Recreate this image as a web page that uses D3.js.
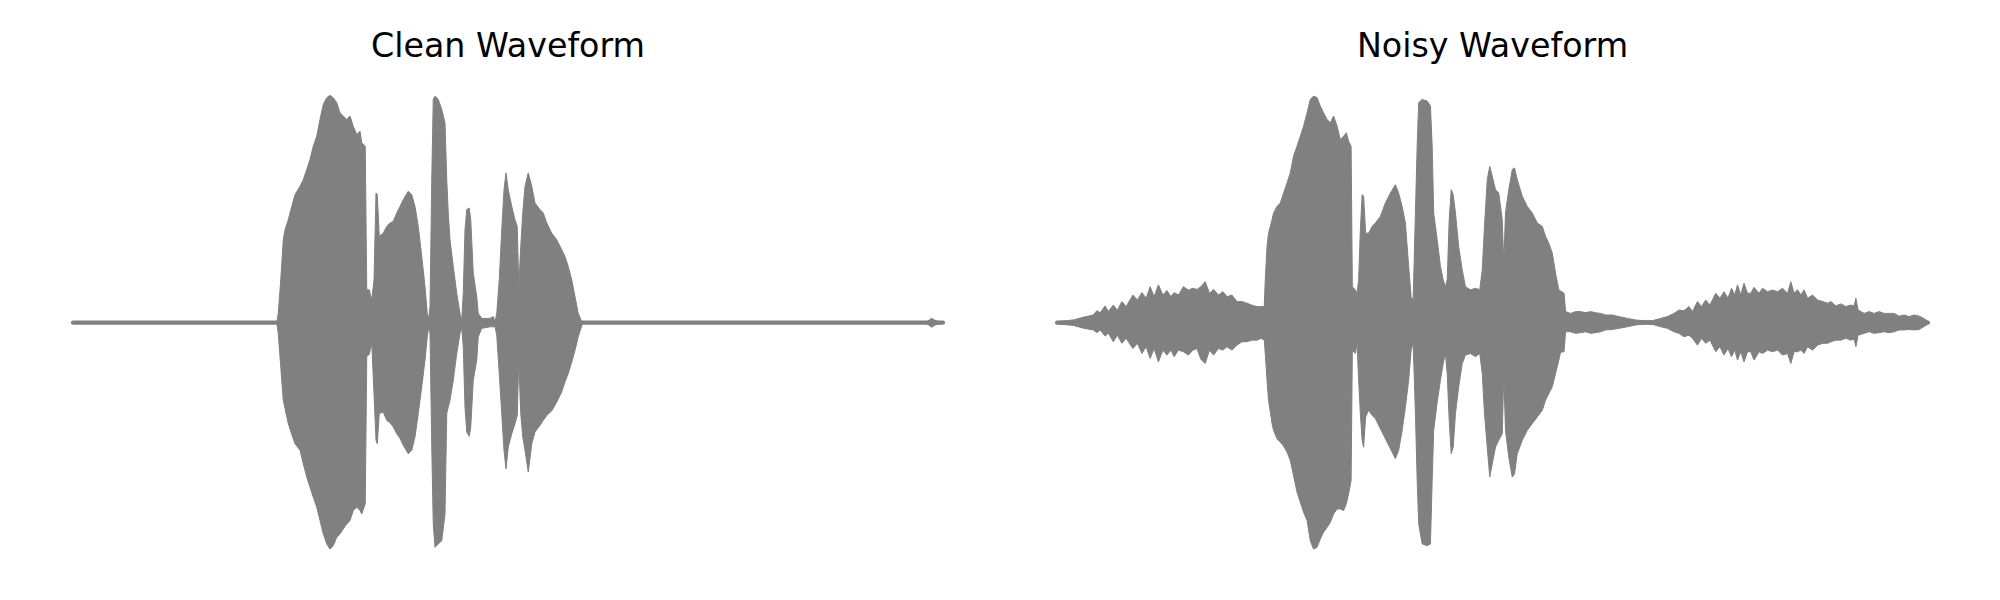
<!DOCTYPE html>
<html>
<head>
<meta charset="utf-8">
<script src="https://cdn.jsdelivr.net/npm/d3@7"></script>
<style>
  html, body { margin: 0; padding: 0; background: #ffffff; }
  svg { display: block; }
</style>
</head>
<body>
<svg id="chart" width="2000" height="600"></svg>
<script>
// ---------------- DATA ----------------
const titles = ["Clean Waveform", "Noisy Waveform"];
const duration = 3.48; // seconds

// Envelope of the clean waveform: [time (s), upper amplitude, lower amplitude]
const cleanEnvelope = [
  [0, 0, 0], [0.815, 0, 0], [0.821, 0.041, -0.047], [0.831, 0.189, -0.195], [0.841, 0.366, -0.342],
  [0.848, 0.410, -0.379], [0.861, 0.454, -0.445], [0.875, 0.513, -0.493], [0.888, 0.565, -0.534],
  [0.908, 0.602, -0.563], [0.921, 0.631, -0.622], [0.935, 0.676, -0.681], [0.948, 0.720, -0.726],
  [0.961, 0.779, -0.770], [0.975, 0.823, -0.814], [0.988, 0.897, -0.873], [1.001, 0.963, -0.932],
  [1.015, 0.993, -0.976], [1.028, 1.003, -0.999], [1.041, 0.993, -0.984], [1.055, 0.971, -0.947],
  [1.068, 0.926, -0.932], [1.081, 0.912, -0.910], [1.095, 0.897, -0.888], [1.108, 0.912, -0.873],
  [1.121, 0.867, -0.829], [1.135, 0.830, -0.814], [1.148, 0.845, -0.829], [1.155, 0.794, -0.844],
  [1.169, 0.779, -0.799], [1.175, 0.145, -0.150], [1.185, 0.145, -0.139], [1.195, 0.100, -0.091],
  [1.204, 0.189, -0.313], [1.212, 0.572, -0.519], [1.217, 0.565, -0.534], [1.225, 0.381, -0.401],
  [1.241, 0.395, -0.394], [1.255, 0.425, -0.431], [1.268, 0.440, -0.441], [1.281, 0.447, -0.460],
  [1.295, 0.484, -0.490], [1.308, 0.513, -0.510], [1.321, 0.543, -0.541], [1.341, 0.580, -0.578],
  [1.355, 0.565, -0.563], [1.368, 0.513, -0.504], [1.381, 0.425, -0.401], [1.395, 0.292, -0.283],
  [1.408, 0.159, -0.165], [1.417, 0.041, -0.062], [1.423, 0.020, -0.018], [1.428, 0.071, -0.047],
  [1.435, 0.631, -0.549], [1.441, 0.985, -0.888], [1.448, 1.000, -0.991], [1.461, 0.985, -0.976],
  [1.475, 0.941, -0.962], [1.488, 0.882, -0.844], [1.495, 0.631, -0.401], [1.501, 0.484, -0.372],
  [1.508, 0.366, -0.342], [1.521, 0.248, -0.254], [1.535, 0.130, -0.136], [1.548, 0.041, -0.047],
  [1.555, 0.012, -0.025], [1.561, 0.130, -0.106], [1.568, 0.410, -0.372], [1.575, 0.499, -0.482],
  [1.585, 0.506, -0.501], [1.591, 0.454, -0.460], [1.601, 0.218, -0.254], [1.615, 0.115, -0.165],
  [1.621, 0.041, -0.062], [1.635, 0.019, -0.025], [1.668, 0.019, -0.018], [1.681, 0.027, -0.018],
  [1.688, 0.004, -0.018], [1.695, 0.041, -0.055], [1.705, 0.189, -0.224], [1.715, 0.410, -0.401],
  [1.724, 0.587, -0.563], [1.732, 0.661, -0.645], [1.741, 0.587, -0.549], [1.755, 0.513, -0.490],
  [1.768, 0.454, -0.445], [1.777, 0.425, -0.409], [1.783, 0.159, -0.165], [1.791, 0.336, -0.401],
  [1.799, 0.484, -0.504], [1.808, 0.602, -0.563], [1.821, 0.661, -0.659], [1.835, 0.602, -0.534],
  [1.848, 0.528, -0.482], [1.868, 0.499, -0.453], [1.881, 0.484, -0.431], [1.895, 0.440, -0.409],
  [1.915, 0.395, -0.389], [1.935, 0.366, -0.350], [1.955, 0.322, -0.305], [1.968, 0.292, -0.261],
  [1.981, 0.248, -0.224], [1.995, 0.189, -0.173], [2.008, 0.115, -0.121], [2.021, 0.041, -0.062],
  [2.035, 0.004, -0.013], [2.040, 0, 0], [3.410, 0, 0], [3.425, 0.012, -0.012], [3.435, 0.020, -0.020],
  [3.445, 0.012, -0.012], [3.455, 0.008, -0.008], [3.480, 0, 0]
];

// Envelope of the noisy waveform: [time (s), upper amplitude, lower amplitude]
const noisyEnvelope = [
  [0, 0.005, -0.005], [0.065, 0.012, -0.012], [0.105, 0.024, -0.024], [0.145, 0.034, -0.032],
  [0.159, 0.053, -0.044], [0.172, 0.044, -0.032], [0.192, 0.074, -0.059], [0.205, 0.049, -0.047],
  [0.225, 0.078, -0.084], [0.241, 0.055, -0.055], [0.259, 0.093, -0.091], [0.276, 0.071, -0.069],
  [0.303, 0.122, -0.114], [0.321, 0.100, -0.091], [0.339, 0.133, -0.136], [0.356, 0.108, -0.106],
  [0.372, 0.159, -0.158], [0.388, 0.115, -0.114], [0.405, 0.167, -0.173], [0.423, 0.122, -0.121],
  [0.439, 0.142, -0.143], [0.455, 0.115, -0.121], [0.468, 0.133, -0.150], [0.485, 0.122, -0.121],
  [0.505, 0.159, -0.128], [0.525, 0.144, -0.143], [0.543, 0.152, -0.121], [0.559, 0.147, -0.114],
  [0.575, 0.159, -0.162], [0.592, 0.181, -0.180], [0.609, 0.130, -0.121], [0.625, 0.147, -0.143],
  [0.645, 0.122, -0.114], [0.663, 0.137, -0.121], [0.679, 0.115, -0.106], [0.699, 0.122, -0.121],
  [0.719, 0.093, -0.099], [0.739, 0.093, -0.084], [0.759, 0.086, -0.084], [0.779, 0.077, -0.077],
  [0.799, 0.071, -0.077], [0.815, 0.071, -0.069], [0.828, 0.071, -0.077],
  [0.832, 0.189, -0.136], [0.839, 0.336, -0.254], [0.845, 0.395, -0.342], [0.859, 0.454, -0.445],
  [0.865, 0.484, -0.475], [0.879, 0.513, -0.512], [0.892, 0.528, -0.527], [0.903, 0.565, -0.541],
  [0.919, 0.617, -0.571], [0.932, 0.661, -0.608], [0.945, 0.735, -0.674], [0.959, 0.779, -0.748],
  [0.972, 0.823, -0.792], [0.985, 0.867, -0.836], [0.999, 0.926, -0.873], [1.012, 0.985, -0.962],
  [1.025, 1.000, -0.999], [1.039, 0.993, -0.991], [1.052, 0.956, -0.954], [1.065, 0.926, -0.925],
  [1.079, 0.897, -0.903], [1.092, 0.882, -0.881], [1.105, 0.912, -0.844], [1.119, 0.867, -0.822],
  [1.132, 0.808, -0.822], [1.145, 0.823, -0.829], [1.156, 0.838, -0.799], [1.165, 0.801, -0.755],
  [1.175, 0.779, -0.696], [1.180, 0.159, -0.121], [1.192, 0.145, -0.136], [1.199, 0.130, -0.091],
  [1.205, 0.189, -0.254], [1.212, 0.410, -0.401], [1.219, 0.565, -0.519], [1.225, 0.558, -0.549],
  [1.233, 0.395, -0.416], [1.245, 0.395, -0.386], [1.259, 0.425, -0.409], [1.272, 0.440, -0.423],
  [1.292, 0.469, -0.468], [1.312, 0.528, -0.512], [1.332, 0.572, -0.556], [1.352, 0.609, -0.600],
  [1.365, 0.572, -0.563], [1.379, 0.513, -0.475], [1.392, 0.440, -0.372], [1.405, 0.248, -0.254],
  [1.415, 0.115, -0.121], [1.423, 0.100, -0.091], [1.432, 0.484, -0.401], [1.439, 0.779, -0.696],
  [1.445, 0.971, -0.888], [1.459, 0.985, -0.976], [1.479, 0.978, -0.984], [1.492, 0.956, -0.976],
  [1.499, 0.779, -0.696], [1.505, 0.484, -0.475], [1.519, 0.366, -0.350], [1.532, 0.248, -0.254],
  [1.543, 0.189, -0.180], [1.552, 0.159, -0.136], [1.559, 0.189, -0.224], [1.567, 0.454, -0.431],
  [1.575, 0.587, -0.578], [1.583, 0.565, -0.549], [1.592, 0.484, -0.401], [1.605, 0.336, -0.283],
  [1.619, 0.233, -0.180], [1.632, 0.159, -0.143], [1.652, 0.145, -0.136], [1.672, 0.152, -0.150],
  [1.689, 0.145, -0.136], [1.699, 0.233, -0.224], [1.708, 0.425, -0.401], [1.719, 0.631, -0.549],
  [1.729, 0.690, -0.681], [1.739, 0.646, -0.622], [1.752, 0.587, -0.549], [1.765, 0.572, -0.519],
  [1.779, 0.454, -0.490], [1.785, 0.263, -0.224], [1.792, 0.484, -0.475], [1.805, 0.587, -0.593],
  [1.819, 0.676, -0.681], [1.828, 0.683, -0.667], [1.839, 0.631, -0.578], [1.859, 0.558, -0.519],
  [1.879, 0.513, -0.475], [1.899, 0.484, -0.445], [1.919, 0.440, -0.416], [1.939, 0.425, -0.386],
  [1.952, 0.381, -0.342], [1.965, 0.351, -0.313], [1.979, 0.307, -0.283], [1.992, 0.218, -0.224],
  [2.005, 0.145, -0.165], [2.012, 0.140, -0.130], [2.026, 0.130, -0.128], [2.032, 0.049, -0.040],
  [2.052, 0.041, -0.040], [2.072, 0.049, -0.047], [2.092, 0.049, -0.044], [2.112, 0.044, -0.040],
  [2.132, 0.049, -0.047], [2.152, 0.044, -0.044], [2.172, 0.041, -0.040], [2.192, 0.034, -0.032],
  [2.219, 0.034, -0.030], [2.245, 0.027, -0.025], [2.279, 0.019, -0.018], [2.312, 0.012, -0.010],
  [2.345, 0.009, -0.006], [2.379, 0.009, -0.007], [2.412, 0.019, -0.018], [2.439, 0.027, -0.025],
  [2.465, 0.041, -0.040], [2.485, 0.056, -0.047], [2.505, 0.053, -0.062], [2.525, 0.071, -0.055],
  [2.539, 0.049, -0.069], [2.559, 0.093, -0.099], [2.575, 0.071, -0.069], [2.592, 0.100, -0.091],
  [2.609, 0.078, -0.077], [2.632, 0.130, -0.128], [2.649, 0.108, -0.106], [2.665, 0.137, -0.143],
  [2.681, 0.108, -0.114], [2.695, 0.152, -0.150], [2.708, 0.122, -0.121], [2.719, 0.167, -0.165],
  [2.732, 0.122, -0.128], [2.745, 0.174, -0.173], [2.759, 0.130, -0.128], [2.772, 0.130, -0.128],
  [2.785, 0.156, -0.165], [2.805, 0.130, -0.128], [2.819, 0.152, -0.136], [2.839, 0.137, -0.121],
  [2.859, 0.144, -0.128], [2.879, 0.137, -0.121], [2.899, 0.152, -0.143], [2.919, 0.130, -0.136],
  [2.932, 0.181, -0.180], [2.945, 0.130, -0.128], [2.959, 0.145, -0.128], [2.972, 0.122, -0.121],
  [2.985, 0.145, -0.136], [2.999, 0.108, -0.106], [3.019, 0.122, -0.121], [3.039, 0.100, -0.099],
  [3.059, 0.093, -0.091], [3.079, 0.086, -0.091], [3.092, 0.093, -0.084], [3.112, 0.074, -0.077],
  [3.132, 0.083, -0.077], [3.152, 0.071, -0.069], [3.172, 0.078, -0.077], [3.185, 0.074, -0.072],
  [3.192, 0.108, -0.106], [3.201, 0.056, -0.055], [3.225, 0.041, -0.047], [3.245, 0.049, -0.040],
  [3.265, 0.041, -0.047], [3.285, 0.049, -0.044], [3.305, 0.041, -0.040], [3.325, 0.041, -0.044],
  [3.345, 0.041, -0.040], [3.365, 0.029, -0.032], [3.385, 0.034, -0.032], [3.405, 0.027, -0.030],
  [3.425, 0.034, -0.032], [3.445, 0.029, -0.030], [3.463, 0.019, -0.018], [3.480, 0.006, -0.006]
];

// ---------------- LAYOUT ----------------
const svg = d3.select("#chart");
svg.append("rect").attr("width", 2000).attr("height", 600).attr("fill", "#ffffff");

const panels = [
  { title: titles[0], data: cleanEnvelope, left: 29.5, right: 986.5 },
  { title: titles[1], data: noisyEnvelope, left: 1013.5, right: 1971.5 }
];
const axTop = 73.4, axBottom = 572.0;
const color = "#808080";

panels.forEach(p => {
  const pad = duration * 0.05;
  const x = d3.scaleLinear().domain([-pad, duration + pad]).range([p.left, p.right]);
  const y = d3.scaleLinear().domain([-1.1, 1.1]).range([axBottom, axTop]);
  const g = svg.append("g");

  // zero line (the thin signal where it is silent)
  g.append("path")
    .datum(p.data)
    .attr("d", d3.line().x(d => x(d[0])).y(() => y(0)))
    .attr("fill", "none")
    .attr("stroke", color)
    .attr("stroke-width", 4.2)
    .attr("stroke-linecap", "round");

  // waveform envelope
  g.append("path")
    .datum(p.data)
    .attr("d", d3.area().x(d => x(d[0])).y0(d => y(d[2])).y1(d => y(d[1])))
    .attr("fill", color)
    .attr("stroke", color)
    .attr("stroke-width", 1)
    .attr("stroke-linejoin", "round");

  svg.append("text")
    .attr("x", (p.left + p.right) / 2)
    .attr("y", 56.7)
    .attr("text-anchor", "middle")
    .attr("font-family", "'DejaVu Sans', sans-serif")
    .attr("font-size", 33.3)
    .attr("fill", "#000000")
    .text(p.title);
});
</script>
</body>
</html>
